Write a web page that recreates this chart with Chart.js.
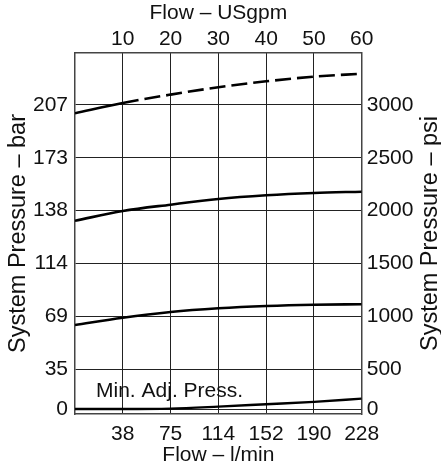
<!DOCTYPE html>
<html>
<head>
<meta charset="utf-8">
<script src="https://cdn.jsdelivr.net/npm/chart.js@4/dist/chart.umd.min.js"></script>
<style>
  body { margin: 0; background: #fff; }
  #wrap { width: 441px; height: 468px; }
</style>
</head>
<body>
<div id="wrap"><canvas id="chart" width="441" height="468"></canvas></div>
<script>
// flow in USgpm, pressure in psi
var flowGpm = [0, 10, 20, 30, 40, 50, 60];
var curve3000 = [2921, 3019, 3098, 3168, 3224, 3268, 3296];
var curve2000 = [1904, 1996, 2056, 2110, 2145, 2167, 2179];
var curve1000 = [917, 986, 1040, 1075, 1097, 1109, 1113];
var minAdj = [0, 0, 5, 30, 60, 90, 130];

var gpmTicks = [10, 20, 30, 40, 50, 60];
var lpmLabels = ['38', '75', '114', '152', '190', '228'];
var psiTicks = [0, 500, 1000, 1500, 2000, 2500, 3000];
var barLabels = ['0', '35', '69', '114', '138', '173', '207'];

var font = { family: '"Liberation Sans", Arial, sans-serif', size: 21 };
var sideFont = { family: '"Liberation Sans", Arial, sans-serif', size: 23.5 };
var textColor = '#111';
var gridColor = '#222';
var borderColor = '#444';

// the original chart squeezes the part below 500 psi
class SplitScale extends Chart.LinearScale {
    getPixelForValue(value) {
        if (value < 500) value = 500 - (500 - value) * 0.758;
        return super.getPixelForValue(value);
    }
}
SplitScale.id = 'split';
SplitScale.defaults = Chart.LinearScale.defaults;
Chart.register(SplitScale);

function points(arr) {
    return flowGpm.map(function(x, i) { return { x: x, y: arr[i] }; });
}

var extraText = {
    id: 'extraText',
    afterDraw: function(chart) {
        var ctx = chart.ctx;
        var a = chart.chartArea;
        ctx.save();
        ctx.fillStyle = textColor;

        ctx.font = font.size + 'px ' + font.family;
        ctx.textAlign = 'left';
        ctx.textBaseline = 'alphabetic';
        ctx.fillText('Min. Adj. Press.', chart.scales.x.getPixelForValue(4.4), chart.scales.y.getPixelForValue(0) - 12);

        ctx.font = sideFont.size + 'px ' + sideFont.family;
        ctx.textAlign = 'center';
        ctx.translate(chart.width - 4, (a.top + a.bottom) / 2);
        ctx.rotate(-Math.PI / 2);
        ctx.fillText('System Pressure – psi', 0, 0);
        ctx.restore();
    }
};

function fixedTicks(values) {
    return function(scale) {
        scale.ticks = values.map(function(v) { return { value: v }; });
    };
}

new Chart(document.getElementById('chart'), {
    type: 'line',
    data: {
        datasets: [
            {
                data: points(curve3000),
                segment: {
                    borderDash: function(ctx) { return ctx.p0.parsed.x >= 10 ? [16, 6] : undefined; }
                }
            },
            { data: points(curve2000) },
            { data: points(curve1000) },
            { data: points(minAdj), borderWidth: 2.4 }
        ]
    },
    options: {
        responsive: false,
        animation: false,
        events: [],
        layout: { padding: 0 },
        plugins: { legend: { display: false }, tooltip: { enabled: false } },
        elements: {
            point: { radius: 0 },
            line: { borderWidth: 2.6, borderColor: '#000', cubicInterpolationMode: 'monotone', fill: false }
        },
        scales: {
            x: {
                type: 'linear', position: 'bottom', min: 0, max: 60,
                afterBuildTicks: fixedTicks(gpmTicks),
                afterFit: function(s) { s.height = 54; },
                grid: { color: gridColor, lineWidth: 1, drawTicks: false },
                border: { color: borderColor, width: 1.5 },
                ticks: { font: font, color: textColor, padding: 8, maxRotation: 0, autoSkip: false,
                    callback: function(v, i) { return lpmLabels[i]; } },
                title: { display: true, text: 'Flow – l/min', font: font, color: textColor, padding: 0 }
            },
            x2: {
                type: 'linear', position: 'top', min: 0, max: 60,
                afterBuildTicks: fixedTicks(gpmTicks),
                afterFit: function(s) { s.height = 53; },
                grid: { drawOnChartArea: false, drawTicks: false },
                border: { color: borderColor, width: 1.5 },
                ticks: { font: font, color: textColor, padding: 1, maxRotation: 0, autoSkip: false,
                    callback: function(v, i) { return String(gpmTicks[i]); } },
                title: { display: true, text: 'Flow – USgpm', font: font, color: textColor, padding: { top: 1, bottom: 0 } }
            },
            y: {
                type: 'split', position: 'left', min: 74, max: 3492,
                afterBuildTicks: fixedTicks(psiTicks),
                afterFit: function(s) { s.width = 75; },
                grid: { color: gridColor, lineWidth: 1, drawTicks: false },
                border: { color: borderColor, width: 1.5 },
                ticks: { font: font, color: textColor, padding: 7, autoSkip: false,
                    callback: function(v, i) { return barLabels[i]; } },
                title: { display: true, text: 'System Pressure – bar', font: sideFont, color: textColor, padding: { top: 4.5, bottom: 0 } }
            },
            y2: {
                type: 'split', position: 'right', min: 74, max: 3492,
                afterBuildTicks: fixedTicks(psiTicks),
                afterFit: function(s) { s.width = 79.3; },
                grid: { drawOnChartArea: false, drawTicks: false },
                border: { color: borderColor, width: 1.5 },
                ticks: { font: font, color: textColor, padding: 5, autoSkip: false,
                    callback: function(v, i) { return String(psiTicks[i]); } }
            }
        }
    },
    plugins: [extraText]
});
</script>
</body>
</html>
